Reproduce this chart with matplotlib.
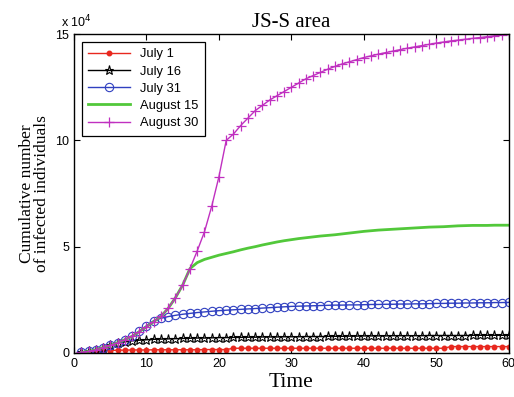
import matplotlib
matplotlib.use("Agg")
import matplotlib.pyplot as plt
import numpy as np

# Time (days)
t = list(range(1, 61))

# Cumulative infected, in units of 1e4
july1 = [0.02, 0.04, 0.07, 0.09, 0.11, 0.13, 0.13, 0.14, 0.14, 0.14,
         0.15, 0.15, 0.15, 0.15, 0.15, 0.15, 0.15, 0.16, 0.16, 0.16,
         0.16, 0.22, 0.22, 0.22, 0.22, 0.22, 0.22, 0.22, 0.22, 0.22,
         0.22, 0.22, 0.22, 0.22, 0.22, 0.22, 0.22, 0.22, 0.22, 0.22,
         0.22, 0.22, 0.22, 0.22, 0.22, 0.22, 0.22, 0.22, 0.22, 0.22,
         0.22, 0.30, 0.30, 0.30, 0.30, 0.30, 0.30, 0.30, 0.30, 0.30]

july16 = [0.03, 0.07, 0.15, 0.25, 0.35, 0.45, 0.52, 0.57, 0.60, 0.62,
          0.64, 0.65, 0.66, 0.67, 0.68, 0.69, 0.70, 0.70, 0.71, 0.72,
          0.72, 0.73, 0.73, 0.74, 0.74, 0.75, 0.75, 0.75, 0.76, 0.76,
          0.76, 0.77, 0.77, 0.77, 0.78, 0.78, 0.78, 0.79, 0.79, 0.80,
          0.80, 0.80, 0.80, 0.81, 0.81, 0.81, 0.81, 0.81, 0.82, 0.82,
          0.82, 0.82, 0.82, 0.82, 0.83, 0.83, 0.83, 0.83, 0.83, 0.83]

july31 = [0.03, 0.07, 0.15, 0.25, 0.35, 0.48, 0.62, 0.80, 1.02, 1.28,
          1.52, 1.63, 1.71, 1.77, 1.82, 1.86, 1.90, 1.93, 1.96, 1.99,
          2.01, 2.03, 2.05, 2.07, 2.09, 2.11, 2.13, 2.15, 2.17, 2.19,
          2.20, 2.21, 2.22, 2.23, 2.24, 2.25, 2.25, 2.26, 2.26, 2.27,
          2.28, 2.28, 2.29, 2.29, 2.30, 2.30, 2.31, 2.31, 2.32, 2.33,
          2.33, 2.34, 2.34, 2.35, 2.35, 2.36, 2.36, 2.37, 2.37, 2.38]

aug15 = [0.03, 0.07, 0.15, 0.25, 0.35, 0.48, 0.62, 0.78, 1.00, 1.23,
         1.47, 1.72, 2.10, 2.60, 3.20, 3.97, 4.25, 4.40, 4.50, 4.60,
         4.68, 4.76, 4.85, 4.93, 5.00, 5.08, 5.15, 5.22, 5.28, 5.33,
         5.38, 5.42, 5.46, 5.50, 5.53, 5.56, 5.60, 5.64, 5.68, 5.72,
         5.75, 5.78, 5.80, 5.82, 5.84, 5.86, 5.88, 5.90, 5.92, 5.93,
         5.94, 5.96, 5.98, 5.99, 6.00, 6.00, 6.00, 6.01, 6.01, 6.01]

aug30 = [0.03, 0.07, 0.15, 0.25, 0.35, 0.48, 0.62, 0.78, 1.00, 1.23,
         1.47, 1.72, 2.10, 2.60, 3.20, 3.97, 4.80, 5.70, 6.90, 8.30,
         10.00, 10.30, 10.70, 11.05, 11.40, 11.65, 11.90, 12.10, 12.30, 12.50,
         12.70, 12.90, 13.05, 13.20, 13.35, 13.48, 13.60, 13.70, 13.80, 13.90,
         13.98, 14.06, 14.13, 14.20, 14.27, 14.34, 14.40, 14.46, 14.52, 14.58,
         14.63, 14.68, 14.72, 14.76, 14.80, 14.84, 14.88, 14.92, 14.96, 15.00]

labels = ["July 1", "July 16", "July 31", "August 15", "August 30"]
xticks = [0, 10, 20, 30, 40, 50, 60]
yticks = [0, 5, 10, 15]

serif = ["Liberation Serif", "DejaVu Serif"]
sans = ["Liberation Sans", "DejaVu Sans"]

fig = plt.figure(figsize=(5.14, 3.97), dpi=100)
ax = fig.add_axes([0.144, 0.111, 0.846, 0.803])

ax.plot(t, july1, color="#e8281e", lw=1, marker=".", ms=6.5, label=labels[0])
ax.plot(t, july16, color="black", lw=1, marker="*", ms=6.5, mfc="none", mew=0.8, label=labels[1])
ax.plot(t, july31, color="#3040c0", lw=1, marker="o", ms=6, mfc="none", mew=0.8, label=labels[2])
ax.plot(t, aug15, color="#52c83a", lw=2, label=labels[3])
ax.plot(t, aug30, color="#c030c0", lw=1, marker="+", ms=7.5, mew=0.9, label=labels[4])

ax.set_xlim(0, 60)
ax.set_ylim(0, 15)
ax.set_xticks(xticks)
ax.set_yticks(yticks)
ax.tick_params(direction="in", top=True, right=True, length=4, labelsize=9)
for lab in ax.get_xticklabels() + ax.get_yticklabels():
    lab.set_family(sans)
for s in ax.spines.values():
    s.set_linewidth(1.0)

ax.text(-0.03, 1.012, r"x 10$^4$", transform=ax.transAxes, ha="left", va="bottom",
        fontsize=9, family=sans)

ax.set_title("JS-S area", family=serif, fontsize=15, pad=5)
ax.set_xlabel("Time", family=serif, fontsize=15.5, labelpad=2)
ax.set_ylabel("Cumulative number\nof infected individuals", family=serif, fontsize=12.5,
              labelpad=4, linespacing=0.9)

leg = ax.legend(loc="upper left", prop={"family": sans, "size": 9.3}, fancybox=False,
                edgecolor="black", framealpha=1, handlelength=3.2, borderaxespad=0.6,
                labelspacing=0.4, borderpad=0.5)
leg.get_frame().set_linewidth(0.9)

fig.savefig("out.png", dpi=100)
